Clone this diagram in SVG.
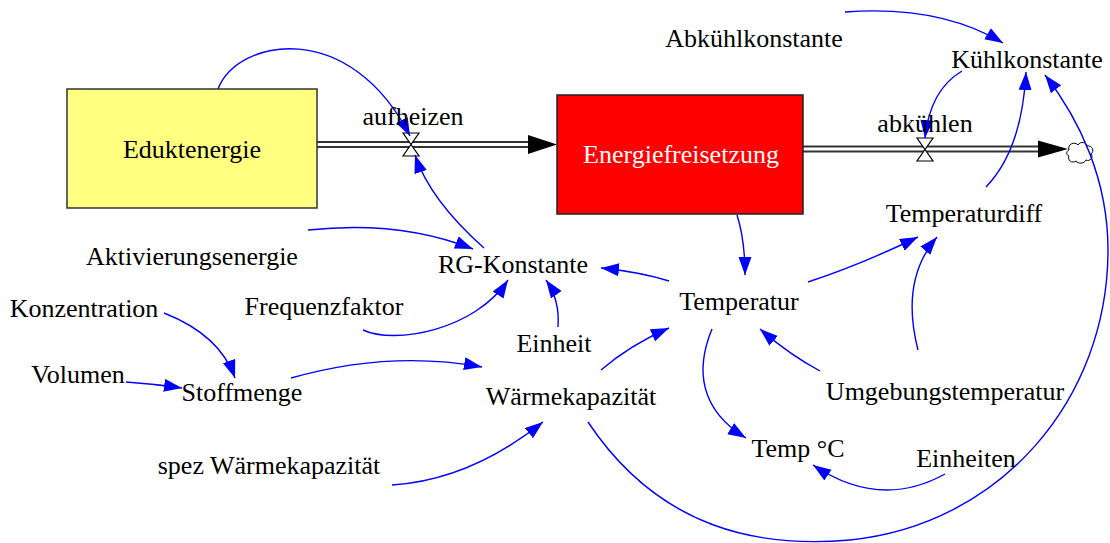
<svg xmlns="http://www.w3.org/2000/svg" width="1110" height="543" viewBox="0 0 1110 543">
<style>
  text { font-family: "Liberation Serif", "Times New Roman", serif; font-size: 26px; fill: #000; text-anchor: middle; }
  .link { fill: none; stroke: #0000FF; stroke-width: 1.4; marker-end: url(#ah); }
  .pipeOuter { stroke: #333; stroke-width: 7; fill: none; }
  .pipeInner { stroke: #fff; stroke-width: 3; fill: none; }
  .valve { fill: #fff; stroke: #000; stroke-width: 1.2; }
</style>
<defs>
  <marker id="ah" markerUnits="userSpaceOnUse" markerWidth="19" markerHeight="14" refX="18" refY="6.5" orient="auto">
    <path d="M0,0 L18,6.5 L0,13 Z" fill="#0000FF"/>
  </marker>
</defs>
<rect width="1110" height="543" fill="#fff"/>

<g id="flows">
  <g id="flow-aufheizen">
    <line class="pipeOuter" x1="317" y1="144.5" x2="530" y2="144.5"/>
    <line class="pipeInner" x1="317" y1="144.5" x2="530" y2="144.5"/>
    <path d="M528,135 L557,144.5 L528,154 Z" fill="#000"/>
    <path class="valve" d="M403,133 L419,133 L411,144.5 Z M403,156 L419,156 L411,144.5 Z"/>
  </g>
  <g id="flow-abkuehlen">
    <line class="pipeOuter" x1="803" y1="149" x2="1040" y2="149"/>
    <line class="pipeInner" x1="803" y1="149" x2="1040" y2="149"/>
    <path d="M1038,140.5 L1068,149 L1038,157.5 Z" fill="#000"/>
    <path class="valve" d="M917,138 L933,138 L925,149.5 Z M917,161 L933,161 L925,149.5 Z"/>
    <path d="M1069,150 c-2,-6 6,-9 9,-5 c2,-4 9,-3 9,1 c5,-1 8,5 4,8 c3,3 -1,8 -5,6 c-2,4 -8,4 -10,1 c-4,3 -9,-1 -7,-5 c-3,-1 -3,-5 0,-6 z" fill="#fff" stroke="#000" stroke-width="1"/>
  </g>
</g>

<g id="connectors">
  <path class="link" d="M218,89 C238,38 350,18 410,136"/>
  <path class="link" d="M484,248 Q430,200 415,155"/>
  <path class="link" d="M308,230 Q400,220 473,249"/>
  <path class="link" d="M363,330 C395,345 475,330 508,280"/>
  <path class="link" d="M558,327 Q560,300 546,280"/>
  <path class="link" d="M164,313 Q220,335 235,378"/>
  <path class="link" d="M126,382 Q155,384 182,388"/>
  <path class="link" d="M291,378 Q390,350 482,367"/>
  <path class="link" d="M392,485 Q470,480 543,422"/>
  <path class="link" d="M601,370 Q630,345 669,328"/>
  <path class="link" d="M737,215 Q745,240 745,275"/>
  <path class="link" d="M669,281 Q640,272 601,268"/>
  <path class="link" d="M808,282 Q860,265 918,237"/>
  <path class="link" d="M918,350 Q900,280 937,237"/>
  <path class="link" d="M820,371 Q790,355 760,329"/>
  <path class="link" d="M712,329 C695,370 700,410 746,438"/>
  <path class="link" d="M945,474 Q880,510 813,465"/>
  <path class="link" d="M588,422 C660,530 760,548 850,540 C1000,525 1108,400 1108,250 C1108,180 1080,120 1045,75"/>
  <path class="link" d="M986,187 Q1022,150 1026,72"/>
  <path class="link" d="M962,71 Q930,90 925,138"/>
  <path class="link" d="M845,12 Q940,5 1003,43"/>
</g>

<g id="Eduktenergie">
  <rect x="67" y="89" width="250" height="119" fill="#FFFF80" stroke="#333" stroke-width="1.5"/>
  <text x="192" y="158">Eduktenergie</text>
</g>
<g id="Energiefreisetzung">
  <rect x="557" y="95" width="246" height="119" fill="#FF0000" stroke="#222" stroke-width="1.5"/>
  <text x="681" y="163" style="fill:#fff">Energiefreisetzung</text>
</g>
<g id="aufheizen"><text x="413" y="125">aufheizen</text></g>
<g id="abkuehlen"><text x="925" y="132">abkühlen</text></g>
<g id="Abkuehlkonstante"><text x="754" y="47">Abkühlkonstante</text></g>
<g id="Kuehlkonstante"><text x="1027" y="68">Kühlkonstante</text></g>
<g id="Temperaturdiff"><text x="964" y="222">Temperaturdiff</text></g>
<g id="Aktivierungsenergie"><text x="192" y="265">Aktivierungsenergie</text></g>
<g id="RG-Konstante"><text x="513" y="273">RG-Konstante</text></g>
<g id="Temperatur"><text x="739" y="310">Temperatur</text></g>
<g id="Konzentration"><text x="84" y="317">Konzentration</text></g>
<g id="Frequenzfaktor"><text x="324" y="315">Frequenzfaktor</text></g>
<g id="Einheit"><text x="554" y="352">Einheit</text></g>
<g id="Volumen"><text x="78" y="383">Volumen</text></g>
<g id="Stoffmenge"><text x="242" y="401">Stoffmenge</text></g>
<g id="Waermekapazitaet"><text x="571" y="405">Wärmekapazität</text></g>
<g id="Umgebungstemperatur"><text x="945" y="400">Umgebungstemperatur</text></g>
<g id="TempC"><text x="798" y="457">Temp °C</text></g>
<g id="Einheiten"><text x="966" y="467">Einheiten</text></g>
<g id="spezWaermekapazitaet"><text x="269" y="474">spez Wärmekapazität</text></g>
</svg>
